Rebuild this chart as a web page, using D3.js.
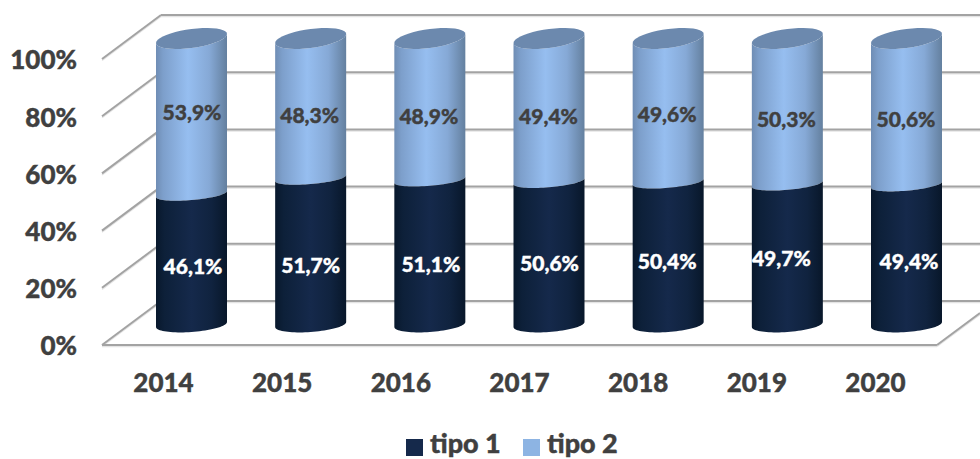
<!DOCTYPE html>
<html>
<head>
<meta charset="utf-8">
<script src="https://cdn.jsdelivr.net/npm/d3@7"></script>
<style>
  html, body { margin: 0; padding: 0; background: #fff; }
  svg { display: block; }
  text { font-family: Lato, "Open Sans", sans-serif; font-weight: 900; }
</style>
</head>
<body>
<svg id="chart" width="980" height="459"></svg>
<script>
// data
const years = ["2014", "2015", "2016", "2017", "2018", "2019", "2020"];
const tipo1 = [46.1, 51.7, 51.1, 50.6, 50.4, 49.7, 49.4];
const tipo2 = [53.9, 48.3, 48.9, 49.4, 49.6, 50.3, 50.6];
const seriesNames = ["tipo 1", "tipo 2"];
const yTicks = [0, 20, 40, 60, 80, 100];

const width = 980, height = 459;
const svg = d3.select("#chart");
const fmt = v => v.toFixed(1).replace(".", ",") + "%";

// front plane of the fake 3d box, the back wall is shifted by depth
const depthX = 59, depthY = -44;
const yFront = d3.scaleLinear().domain([0, 100]).range([345, 59]);
const xAxisScale = d3.scalePoint().domain(years).range([163, 875]);
const xFloorLeft = 102, xFloorRight = 937;

// cylinders sit between front and back, slightly non linear because of the perspective
const xBar = d3.scalePoint().domain(years).range([191.5, 906.5]);
const yBar = d3.scaleLinear().domain([0, 50, 100]).range([324.5, 183, 38.5]);
const rx = 35.5;

const defs = svg.append("defs");
function cylGradient(id, stops) {
    const g = defs.append("linearGradient").attr("id", id)
        .attr("x1", 0).attr("x2", 1).attr("y1", 0).attr("y2", 0);
    stops.forEach(s => g.append("stop").attr("offset", s[0]).attr("stop-color", s[1]));
}
cylGradient("grad1", [[0, "#08182c"], [0.12, "#0d2039"], [0.5, "#15294b"], [0.78, "#10233f"], [1, "#08172a"]]);
cylGradient("grad2", [[0, "#6f8db4"], [0.1, "#7d9fcb"], [0.45, "#96bef0"], [0.75, "#86a9d6"], [1, "#64809f"]]);

/// grid ///
const grid = svg.append("g");
function gridLine(x1, y1, x2, y2) {
    grid.append("line").attr("x1", x1).attr("y1", y1 + 1.5).attr("x2", x2).attr("y2", y2 + 1.5)
        .attr("stroke", "#e4e4e4").attr("stroke-width", 1.5);
    grid.append("line").attr("x1", x1).attr("y1", y1).attr("x2", x2).attr("y2", y2)
        .attr("stroke", "#a3a3a3").attr("stroke-width", 2);
}
yTicks.forEach(t => {
    const y = yFront(t);
    gridLine(xFloorLeft + depthX, y + depthY, width, y + depthY);
    gridLine(xFloorLeft, y, xFloorLeft + depthX, y + depthY);
});
gridLine(xFloorLeft, yFront(0), xFloorRight, yFront(0));
gridLine(xFloorRight, yFront(0), xFloorRight + 43, yFront(0) - 32);

/// cylinders ///
// outline of a tilted ellipse, k = how much higher the right side is
function ellipsePoints(cx, cy, ry, k, from, to) {
    const pts = [];
    for (let i = 0; i <= 40; i++) {
        const t = from + (to - from) * i / 40;
        pts.push([cx + rx * Math.cos(t), cy + ry * Math.sin(t) - k * Math.cos(t)]);
    }
    return pts;
}
const line = d3.line();

function segment(cx, y0, y1, ry0, k0, ry1, k1, fill) {
    // lower front arc from right to left, then upper edge (front arc too) back to the right
    const lower = ellipsePoints(cx, y0, ry0, k0, 0, Math.PI);
    const upper = ellipsePoints(cx, y1, ry1, k1, Math.PI, 0);
    return svg.append("path").attr("d", line(lower.concat(upper)) + "Z").attr("fill", fill);
}

years.forEach((year, i) => {
    const cx = xBar(year);
    const yMid = yBar(tipo1[i]);
    const yTop = yBar(tipo1[i] + tipo2[i]);
    segment(cx, yMid, yTop, 6, 3, 9.5, 4.5, "url(#grad2)");
    segment(cx, yBar(0), yMid, 7.5, 2.5, 6, 3, "url(#grad1)");
    const cap = ellipsePoints(cx, yTop, 9.5, 4.5, 0, 2 * Math.PI);
    svg.append("path").attr("d", line(cap) + "Z").attr("fill", "#6c89ae");
});

/// value labels ///
// manual nudges, in the original they were dragged around
const labelY1 = [267, 266, 265, 264, 262, 259, 262];
const labelY2 = [113, 116, 117, 117, 115, 120, 120];
const labelDx1 = [1.5, 0, 1, 0.5, -1, -6, 2.5];
const labelDx2 = [0.5, -1, -1, -0.5, -1, -1, -0.5];

years.forEach((year, i) => {
    svg.append("text").attr("x", xBar(year) + labelDx1[i]).attr("y", labelY1[i])
        .attr("dy", "0.35em").attr("text-anchor", "middle")
        .style("font-size", "21px").attr("fill", "#ffffff").attr("stroke", "#ffffff").attr("stroke-width", 0.4)
        .text(fmt(tipo1[i]));
    svg.append("text").attr("x", xBar(year) + labelDx2[i]).attr("y", labelY2[i])
        .attr("dy", "0.35em").attr("text-anchor", "middle")
        .style("font-size", "21px").attr("fill", "#404040").attr("stroke", "#404040").attr("stroke-width", 0.4)
        .text(fmt(tipo2[i]));
});

/// axes ///
const yAxis = svg.append("g").attr("transform", `translate(${xFloorLeft}, 1.5)`)
    .call(d3.axisLeft(yFront).tickValues(yTicks).tickSize(0).tickPadding(25).tickFormat(d => d + "%"));
yAxis.select(".domain").remove();
yAxis.selectAll("text").style("font-size", "26px").attr("fill", "#404040").attr("stroke", "#404040").attr("stroke-width", 0.4);

const xAxis = svg.append("g").attr("transform", "translate(0, 383)")
    .call(d3.axisBottom(xAxisScale).tickSize(0).tickPadding(0));
xAxis.select(".domain").remove();
xAxis.selectAll("text").attr("dy", "0.35em").style("font-size", "26px").attr("fill", "#404040").attr("stroke", "#404040").attr("stroke-width", 0.4);

/// legend ///
const legendColors = ["#15294b", "#8db4e3"];
const legendBoxX = d3.scaleOrdinal().domain(seriesNames).range([406, 523]);
const legend = svg.append("g").selectAll("g").data(seriesNames).enter().append("g")
    .attr("transform", d => `translate(${legendBoxX(d)}, 439)`);
legend.append("rect").attr("width", 17).attr("height", 17)
    .attr("fill", (d, i) => legendColors[i]);
legend.append("text").attr("x", 24).attr("y", 14)
    .style("font-size", "27px").attr("fill", "#404040").attr("stroke", "#404040").attr("stroke-width", 0.4)
    .text(d => d);
</script>
</body>
</html>
